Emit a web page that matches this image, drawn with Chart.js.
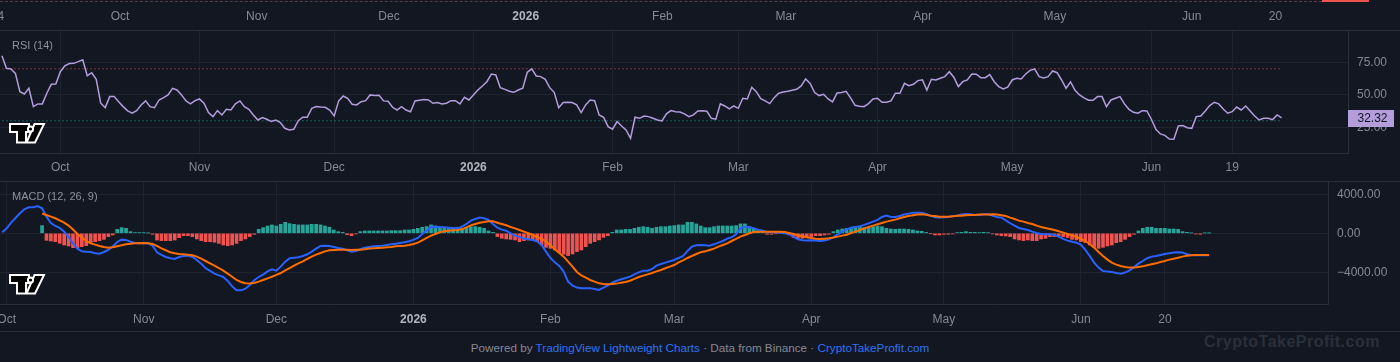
<!DOCTYPE html>
<html>
<head>
<meta charset="utf-8">
<script src="https://cdn.jsdelivr.net/npm/chart.js@4.4.1/dist/chart.umd.min.js"></script>
<style>
    body { margin: 0; width: 1400px; height: 362px; overflow: hidden; position: relative; background: #131722; font-family: 'Liberation Sans', Arial, sans-serif; }
    canvas { position: absolute; left: 0; }
    .sep { position: absolute; left: 0; width: 1400px; height: 1px; background: #2a2e39; }
    .title { position: absolute; left: 12px; font-size: 11px; line-height: 14px; color: #8e919a; }
    #priceLine { position: absolute; left: 0; top: 1px; width: 1322px; border-top: 1px dashed #5b3b45; }
    #priceTag { position: absolute; left: 1322px; top: 0; width: 47px; height: 2px; background: #ef5350; }
    #footer { position: absolute; left: 0; top: 341px; width: 1400px; text-align: center; font-size: 11.7px; line-height: 14px; color: #868993; }
    #footer a { color: #2e73f5; text-decoration: none; }
    #mark { position: absolute; left: 1204px; top: 333px; font-size: 16px; line-height: 18px; letter-spacing: 0.5px; font-weight: bold; color: #2b2f3a; }
</style>
</head>
<body>
<div id="priceLine"></div>
<div id="priceTag"></div>
<canvas id="timeTop" width="1400" height="30" style="top:0"></canvas>
<div class="sep" style="top:30px"></div>
<canvas id="rsiChart" width="1400" height="150" style="top:31px"></canvas>
<div class="sep" style="top:181px"></div>
<canvas id="macdChart" width="1400" height="149" style="top:182px"></canvas>
<div class="sep" style="top:331px"></div>
<div class="title" style="top:38px">RSI (14)</div>
<div class="title" style="top:189px">MACD (12, 26, 9)</div>
<div id="footer">Powered by <a>TradingView Lightweight Charts</a> · Data from Binance · <a>CryptoTakeProfit.com</a></div>
<div id="mark">CryptoTakeProfit.com</div>

<script>
// day 0 = 1 Oct 2025, one value per day
var rsiStartDay = -13;
var rsiValues = [
    80.1, 70.4, 69.9, 66.5, 52.4, 50.6, 55, 40.9, 43, 43, 51.2, 58.1, 58.3,
    67.8, 72.2, 74, 74.2, 75.5, 77, 64.7, 67, 61.9, 43.5,
    40.1, 48.6, 48.6, 44.7, 40.9, 37.6, 35.8, 37.8, 42.2, 45.3,
    40.9, 40.1, 46, 47.8, 49.9, 55, 53.7, 49.9, 45.3, 43,
    45.5, 46.8, 43.5, 36.3, 33.2, 37.8, 34.5, 38.8, 38.3, 43,
    45.3, 40.9, 38.8, 34.5, 30.6, 32.4, 31.2, 29.4, 30.6, 28.6,
    24.2, 22.9, 23.5, 30.1, 32.7, 32.7, 39.6, 40.9, 40.6, 40.4,
    38.3, 33.7, 45.3, 49.1, 47.3, 42.7, 42.2, 44.7, 45.5, 49.9,
    49.4, 49.6, 45.3, 45, 40.4, 38.3, 40.9, 38.3, 37, 45.3,
    45.8, 46.3, 46, 43.5, 44, 43, 43.5, 45.5, 45.5, 43,
    48.1, 46, 49.9, 53.7, 56.8, 60.1, 66, 65.3, 55.5, 54.2,
    52.7, 51.9, 53.7, 55, 67.3, 69.9, 64.5, 64, 61.9, 55.5,
    51.9, 40.1, 44, 44.2, 44, 42.2, 36.3, 42.2, 46, 45.5,
    34.5, 32.7, 25.5, 23.5, 29.4, 26, 22.9, 16.5, 32.7, 31.9,
    33.7, 33.2, 31.9, 30.6, 29.9, 35.3, 37.8, 37, 36.8, 35.3,
    33.2, 34.5, 37.6, 37.8, 37.3, 31.9, 31.2, 43, 41.4, 39.1,
    41.4, 39.6, 47.3, 46.8, 55.8, 52.4, 47, 45.3, 43.2, 47.8,
    51.2, 52.2, 52.7, 53.5, 54.2, 56.8, 62.2, 58.8, 51.7, 49.4,
    50.4, 46.8, 44.5, 51.4, 51.7, 52.7, 47.6, 41.9, 41.2, 40.9,
    43.2, 46.8, 47.3, 44.2, 44.2, 45.3, 51.2, 51.2, 58.8, 57,
    58.1, 60.9, 61.5, 53.7, 61.9, 61.4, 62.7, 64, 67.8, 63.5,
    56.3, 60.1, 61.4, 66, 65.8, 63.2, 63.2, 65.5, 60.1, 56.3,
    54.5, 55.8, 61.4, 62.7, 62.2, 66, 68.8, 69.9, 64, 63,
    64, 68.3, 67, 61.4, 55, 59.9, 53.5, 49.9, 47.6, 45.8,
    45.8, 48.6, 48.6, 40.9, 46, 47.3, 48.6, 43, 38.8, 36.5,
    35.8, 37.8, 37.6, 31.2, 23.5, 19.9, 18.8, 16, 15.8, 26,
    26.3, 24.7, 24.2, 33.2, 33.7, 37.6, 41.7, 44.2, 43, 39.1,
    35.8, 37, 40.6, 38.3, 41.4, 37.6, 33.7, 30.6, 31.9, 31.9,
    30.9, 34.5, 32.32
];
var rsiLevels = [70, 30];

var macdStartDay = -1;
var macdValues = [
    100, 510, 1090, 1570, 2050, 2460, 2670, 2670, 2800, 2560,
    1710, 1060, 750, 550, 170, -380, -1030, -1570, -1850, -1880,
    -1920, -2050, -2090, -1920, -1710, -1330, -890, -650, -680, -860,
    -990, -1030, -1030, -1030, -1270, -1950, -2220, -2430, -2560, -2630,
    -2430, -2330, -2290, -2430, -2740, -3110, -3590, -3860, -4140, -4310,
    -4480, -4890, -5440, -5850, -5850, -5680, -5300, -4820, -4480, -4240,
    -3900, -3690, -3830, -3420, -2910, -2560, -2500, -2460, -2330, -2150,
    -1880, -1570, -1300, -1270, -1300, -1400, -1500, -1570, -1740, -1880,
    -1810, -1640, -1470, -1400, -1330, -1300, -1270, -1200, -1130, -1060,
    -990, -920, -820, -680, -480, -70, 270, 650, 680, 650,
    620, 580, 550, 510, 680, 960, 1300, 1470, 1610, 1540,
    1370, 960, 580, 380, 270, 0, -240, -380, -550, -620,
    -680, -820, -1200, -1880, -2530, -2980, -3350, -3930, -4960, -5370,
    -5570, -5640, -5640, -5640, -5710, -5810, -5570, -5330, -5060, -4860,
    -4720, -4580, -4450, -4210, -4000, -3830, -3830, -3660, -3320, -3150,
    -3010, -2870, -2740, -2530, -2330, -1810, -1370, -1230, -1200, -1230,
    -1270, -1130, -960, -790, -550, -410, -100, 510, 680, 620,
    510, 380, 270, 140, 100, 100, 70, 0, -70, -380,
    -620, -720, -750, -720, -750, -790, -750, -620, -410, -100,
    170, 410, 580, 650, 720, 860, 1030, 1200, 1370, 1680,
    1810, 1680, 1680, 1780, 1920, 2020, 2120, 2120, 2120, 1980,
    1810, 1640, 1610, 1640, 1680, 1740, 1810, 1920, 1980, 1950,
    1880, 1880, 1950, 1950, 1810, 1680, 1610, 1330, 1030, 790,
    550, 440, 340, 170, 30, -70, -100, -100, -170, -340,
    -580, -750, -860, -960, -1160, -1710, -2330, -3010, -3520, -3860,
    -3930, -3970, -4070, -4140, -4030, -3800, -3490, -3110, -2840, -2560,
    -2390, -2330, -2220, -2120, -2050, -1980, -1950, -1980, -2150, -2220,
    -2260, -2260, -2260, -2260
];

// signal and histogram start together
var signalStartDay = 8;
var signalValues = [
    2020, 1880, 1710, 1540, 1330, 1090, 790, 380, -70, -440,
    -790, -1030, -1160, -1300, -1400, -1470, -1440, -1330, -1230, -1130,
    -1060, -1030, -1030, -990, -1030, -1090, -1300, -1540, -1740, -1950,
    -2050, -2120, -2150, -2190, -2260, -2390, -2600, -2840, -3080, -3320,
    -3560, -3830, -4140, -4450, -4790, -4990, -5130, -5160, -5090, -4960,
    -4790, -4620, -4450, -4270, -4070, -3800, -3560, -3320, -3080, -2870,
    -2630, -2390, -2190, -2020, -1850, -1740, -1710, -1680, -1680, -1680,
    -1710, -1680, -1680, -1640, -1570, -1540, -1500, -1470, -1440, -1400,
    -1330, -1300, -1270, -1200, -1090, -960, -720, -480, -240, -70,
    100, 210, 270, 310, 340, 410, 600, 820, 960, 1090,
    1160, 1230, 1230, 1090, 960, 820, 650, 510, 340, 170,
    0, -170, -380, -580, -860, -1230, -1640, -2020, -2390, -2910,
    -3420, -3970, -4310, -4550, -4790, -4960, -5130, -5200, -5230, -5200,
    -5160, -5060, -4990, -4860, -4680, -4480, -4340, -4210, -4070, -3900,
    -3760, -3590, -3420, -3250, -2980, -2770, -2530, -2330, -2120, -1950,
    -1850, -1710, -1570, -1370, -1200, -1030, -790, -580, -340, -170,
    0, 140, 170, 170, 170, 170, 170, 170, 140, 30,
    -70, -210, -310, -410, -480, -550, -580, -550, -510, -440,
    -340, -240, -140, 30, 170, 340, 510, 650, 790, 920,
    1060, 1200, 1300, 1400, 1540, 1680, 1780, 1850, 1920, 1950,
    1900, 1810, 1780, 1710, 1710, 1710, 1740, 1810, 1810, 1850,
    1880, 1880, 1920, 1920, 1920, 1950, 1920, 1850, 1780, 1610,
    1470, 1300, 1200, 1060, 960, 790, 650, 550, 440, 340,
    210, 70, -70, -210, -380, -550, -790, -1090, -1470, -1920,
    -2330, -2700, -3010, -3210, -3350, -3450, -3520, -3520, -3450, -3390,
    -3280, -3180, -3080, -2940, -2840, -2700, -2600, -2500, -2390, -2290,
    -2260, -2220, -2220, -2220, -2220
];
var histValues = [
    790, -720, -790, -860, -1030, -1200, -1300, -1470, -1470, -1370,
    -1270, -1030, -860, -750, -620, -340, -170, 410, 580, 510,
    170, 70, 70, 70, 30, -100, -690, -750, -750, -750,
    -690, -450, -240, -240, -340, -580, -750, -860, -860, -920,
    -1030, -1200, -1270, -1200, -1030, -750, -580, -340, -100, 410,
    580, 750, 860, 750, 920, 1130, 990, 920, 860, 860,
    860, 920, 920, 860, 750, 620, 340, 170, 100, -140,
    -240, -70, 170, 240, 240, 240, 240, 240, 240, 270,
    270, 270, 340, 340, 410, 510, 620, 690, 860, 750,
    690, 580, 510, 510, 620, 510, 620, 680, 680, 620,
    510, 240, 100, -340, -510, -580, -620, -680, -860, -750,
    -680, -680, -860, -1200, -1440, -1540, -1710, -1950, -2150, -2290,
    -2120, -1880, -1710, -1370, -1030, -860, -680, -410, -240, 100,
    340, 340, 410, 410, 510, 620, 680, 620, 510, 620,
    680, 680, 750, 790, 860, 860, 1130, 1130, 960, 750,
    580, 580, 680, 750, 750, 750, 750, 790, 960, 960,
    680, 510, 340, 240, -100, -100, -30, 20, -30, -170,
    -440, -510, -510, -440, -340, -240, -240, -170, -100, 170,
    340, 440, 510, 580, 620, 620, 580, 620, 680, 750,
    680, 510, 440, 410, 440, 440, 410, 340, 240, 200,
    90, -30, -170, -170, -100, -100, -70, 70, 100, 170,
    100, 100, 70, 100, 70, -70, -170, -240, -270, -340,
    -580, -680, -750, -680, -750, -750, -580, -510, -340, -340,
    -240, -340, -440, -620, -680, -860, -960, -1200, -1440, -1540,
    -1440, -1300, -1200, -960, -860, -620, -340, -100, 240, 510,
    620, 620, 510, 510, 510, 440, 440, 410, 170, 100,
    20, -70, -100, 20, 20
];

// time axis labels
var monthDays = [0, 31, 61, 92, 123, 151, 182, 212, 243];
var monthLabels = ['Oct', 'Nov', 'Dec', '2026', 'Feb', 'Mar', 'Apr', 'May', 'Jun'];
var topTickDays = [-27].concat(monthDays, [262]);
var topTickLabels = ['4'].concat(monthLabels, ['20']);
var rsiTickDays = monthDays.concat([261]);
var rsiTickLabels = monthLabels.concat(['19']);
var macdTickDays = monthDays.concat([262]);
var macdTickLabels = monthLabels.concat(['20']);

var rsiTicks = [25, 50, 75];
var macdTicks = [-4000, 0, 4000];

var gridColor = '#1f232e';
var borderColor = '#2a2e39';
var textColor = '#868993';

Chart.defaults.font.family = "'Liberation Sans', Arial, sans-serif";
Chart.defaults.font.size = 12;

function toPoints(start, values) {
    return values.map(function (v, i) { return { x: start + i, y: v }; });
}

function noPad(s) {
    s.paddingLeft = 0;
    s.paddingRight = 0;
    s.paddingTop = 0;
    s.paddingBottom = 0;
}

function timeAxis(min, max, days, labels, height, padding, showGrid) {
    return {
        type: 'linear', min: min, max: max, offset: false,
        grid: { display: showGrid, color: gridColor, drawTicks: false, offset: false },
        border: { display: showGrid, color: borderColor },
        ticks: {
            autoSkip: false, maxRotation: 0, padding: padding,
            callback: function (v, i) { return labels[i]; },
            color: function (c) { return labels[c.index] === '2026' ? '#b2b5be' : textColor; },
            font: function (c) { return { size: 12, weight: labels[c.index] === '2026' ? 'bold' : 'normal' }; }
        },
        afterBuildTicks: function (s) {
            s.ticks = days.map(function (d) { return { value: d }; });
        },
        afterFit: function (s) {
            noPad(s);
            s.height = height;
        }
    };
}

function valueAxis(min, max, ticks, width, fmt) {
    return {
        type: 'linear', position: 'right', min: min, max: max,
        grid: { color: gridColor, drawTicks: false },
        border: { color: borderColor },
        ticks: { padding: 9, color: textColor, font: { size: 12 }, crossAlign: 'near', callback: fmt },
        afterBuildTicks: function (s) {
            s.ticks = ticks.map(function (v) { return { value: v }; });
        },
        afterFit: function (s) {
            noPad(s);
            s.width = width;
        }
    };
}

// TradingView attribution logo in the bottom left of each pane
var logoPlugin = {
    id: 'tvLogo',
    afterDatasetsDraw: function (chart) {
        var ctx = chart.ctx;
        var x = 10, y = 93;
        ctx.save();
        ctx.fillStyle = '#000';
        ctx.strokeStyle = '#fff';
        ctx.lineWidth = 2;
        ctx.lineJoin = 'miter';
        ctx.beginPath();
        ctx.moveTo(x, y);
        ctx.lineTo(x + 19, y);
        ctx.lineTo(x + 19, y + 8);
        ctx.lineTo(x + 16, y + 8);
        ctx.lineTo(x + 16, y + 18.5);
        ctx.lineTo(x + 7, y + 18.5);
        ctx.lineTo(x + 7, y + 8);
        ctx.lineTo(x, y + 8);
        ctx.closePath();
        ctx.moveTo(x + 24.5, y);
        ctx.lineTo(x + 34, y);
        ctx.lineTo(x + 25, y + 18.5);
        ctx.lineTo(x + 16.5, y + 18.5);
        ctx.closePath();
        ctx.fill();
        ctx.stroke();
        ctx.beginPath();
        ctx.arc(x + 20.5, y + 5, 2.6, 0, Math.PI * 2);
        ctx.fill();
        ctx.stroke();
        ctx.restore();
    }
};

// last RSI value badge on the price scale
var rsiBadge = {
    id: 'rsiBadge',
    afterDraw: function (chart) {
        var last = rsiValues[rsiValues.length - 1];
        var y = Math.round(chart.scales.y.getPixelForValue(last));
        var x = chart.chartArea.right;
        var ctx = chart.ctx;
        ctx.save();
        ctx.fillStyle = '#b39ddb';
        ctx.fillRect(x, y - 8, 46, 17);
        ctx.fillStyle = '#131722';
        ctx.font = "12px 'Liberation Sans', Arial, sans-serif";
        ctx.textBaseline = 'middle';
        ctx.fillText(last.toFixed(2), x + 9.5, y + 0.5);
        ctx.restore();
    }
};

var baseOptions = {
    responsive: false,
    animation: false,
    devicePixelRatio: 1,
    events: [],
    layout: { padding: 0 },
    plugins: { legend: { display: false }, tooltip: { enabled: false } }
};

function withScales(scales) {
    return Object.assign({}, baseOptions, { scales: scales });
}

// time scale of the price chart above (only its axis is visible)
new Chart(document.getElementById('timeTop'), {
    type: 'line',
    data: { datasets: [] },
    options: withScales({
        x: timeAxis(-27.21, 290.25, topTickDays, topTickLabels, 29, 8.5, false),
        y: { display: false, min: 0, max: 1 }
    })
});

var rsiEndDay = rsiStartDay + rsiValues.length - 1;

new Chart(document.getElementById('rsiChart'), {
    type: 'line',
    data: {
        datasets: [{
            data: toPoints(rsiStartDay, rsiValues),
            borderColor: '#b39ddb',
            borderWidth: 1.5,
            pointRadius: 0
        }].concat(rsiLevels.map(function (lv, i) {
            return {
                data: [{ x: rsiStartDay, y: lv }, { x: rsiEndDay, y: lv }],
                borderColor: i === 0 ? 'rgba(239, 83, 80, 0.5)' : 'rgba(38, 166, 154, 0.5)',
                borderWidth: 1,
                borderDash: [2, 2],
                pointRadius: 0
            };
        }))
    },
    options: withScales({
        x: timeAxis(-13.43, 286.79, rsiTickDays, rsiTickLabels, 28, 7, true),
        y: valueAxis(5.2, 99.1, rsiTicks, 52, function (v) { return v.toFixed(2); })
    }),
    plugins: [logoPlugin, rsiBadge]
});

new Chart(document.getElementById('macdChart'), {
    type: 'line',
    data: {
        datasets: [{
            type: 'bar',
            data: toPoints(signalStartDay, histValues),
            backgroundColor: function (c) { return c.raw && c.raw.y < 0 ? '#ef5350' : '#26a69a'; },
            barThickness: 3,
            grouped: false,
            order: 3
        }, {
            data: toPoints(macdStartDay, macdValues),
            borderColor: '#2962ff',
            borderWidth: 2,
            pointRadius: 0,
            order: 2
        }, {
            data: toPoints(signalStartDay, signalValues),
            borderColor: '#ff6d00',
            borderWidth: 2,
            pointRadius: 0,
            order: 1
        }]
    },
    options: withScales({
        x: timeAxis(-1.516, 298.9, macdTickDays, macdTickLabels, 27, 8, true),
        y: valueAxis(-7251, 5262, macdTicks, 72, function (v) {
            return v < 0 ? '\u2212' + Math.abs(v).toFixed(2) : v.toFixed(2);
        })
    }),
    plugins: [logoPlugin]
});
</script>
</body>
</html>
